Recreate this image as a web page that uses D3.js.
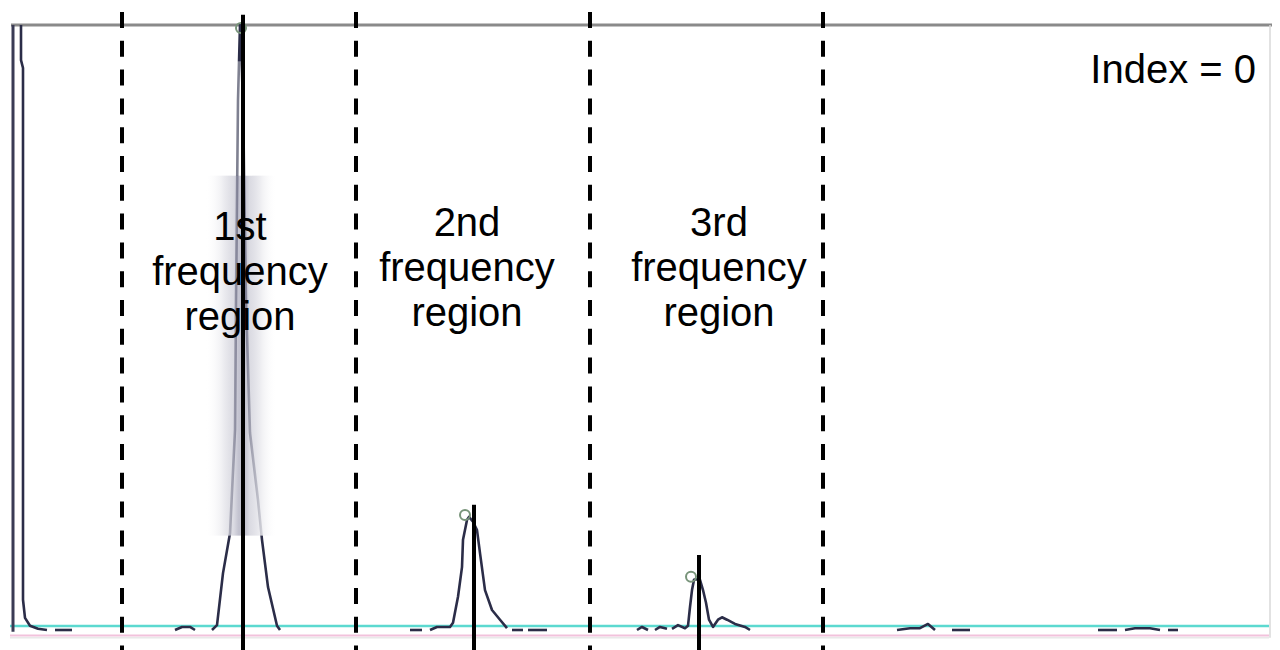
<!DOCTYPE html>
<html>
<head>
<meta charset="utf-8">
<script src="https://cdn.jsdelivr.net/npm/d3@7"></script>
<style>
	html, body { margin: 0; padding: 0; background: #fff; }
	svg { display: block; font-family: "Liberation Sans", Arial, sans-serif; }
</style>
</head>
<body>
<div id="chart"></div>
<script>
// spectrum pieces: [frequency bin, amplitude]
const dcSegment = [[4.5, 1.0], [4.5, 0.942], [5.5, 0.929], [5.5, 0.05], [6.5, 0.02], [9, 0.007], [13, 0.002], [17.5, 0]];
const peak1Segment = [[100, 0], [102.5, 0.008], [105.5, 0.094], [109, 0.16], [111.5, 0.331], [112, 0.545], [113, 0.876],
	[114, 1.0], [115.5, 0.876], [117, 0.545], [119, 0.326], [123, 0.215], [125, 0.149], [128, 0.071], [132.5, 0.007], [134, 0]];
const peak2Segment = [[209, 0], [212.5, 0.005], [219, 0.005], [220.5, 0.012], [223, 0.055], [225, 0.104], [225.5, 0.149],
	[227.5, 0.182], [228.5, 0.187], [230.5, 0.179], [232.5, 0.165], [234, 0.127], [236.5, 0.066], [240, 0.033], [244, 0.017], [247.5, 0.003]];
const peak3Segment = [[330, 0.002], [333, 0.008], [336.5, 0.003], [338, 0.007], [339, 0.038], [340, 0.066], [341, 0.083],
	[342, 0.084], [344, 0.083], [345.5, 0.066], [347, 0.045], [348.5, 0.017], [350.5, 0.005], [353, 0.017], [355, 0.021],
	[357.5, 0.017], [361.5, 0.01], [366.5, 0.005], [369, 0]];
const noiseSegments = [
	[[21.5, 0], [30, 0]],
	[[81.5, 0], [85, 0.005], [89, 0.005], [91.5, 0]],
	[[199, 0], [205, 0]],
	[[250, 0], [255.5, 0]],
	[[258, 0], [267.5, 0]],
	[[312.5, 0], [315, 0.005], [318, 0]],
	[[321.5, 0], [324, 0.005], [327.5, 0.002]],
	[[442.5, 0], [449, 0.003], [454, 0.003], [458, 0.01], [461.5, 0]],
	[[470, 0], [479, 0]],
	[[543, 0], [552.5, 0]],
	[[556.5, 0], [561.5, 0.003], [569, 0.003], [574, 0]],
	[[578, 0], [583, 0]]
];

// detected peaks (small rings) and the harmonic markers (solid black)
const peakFreq = [114.5, 226.5, 339.5];
const peakAmp = [0.995, 0.19, 0.088];
const harmonicFreq = [115.5, 231, 343.5];
const harmonicAmp = [1.017, 0.207, 0.124];

// region boundaries and labels
const regionBounds = [55, 172, 289, 405.5];
const regionLabelFreq = [114, 227.5, 353.5];
const regionLabels = [["1st", "frequency", "region"], ["2nd", "frequency", "region"], ["3rd", "frequency", "region"]];
const indexValue = 0;

const width = 1280, height = 650;

const x = d3.scaleLinear().domain([0, 629]).range([12, 1270]);
const y = d3.scaleLinear().domain([0, 1]).range([630, 25]);

const svg = d3.select("#chart")
	.append("svg")
	.attr("width", width)
	.attr("height", height);

const defs = svg.append("defs");
const smear = defs.append("linearGradient").attr("id", "smear");
[[0, "#ffffff", 0], [0.22, "#f0f0f3", 0.85], [0.4, "#cbcbd6", 0.7], [0.47, "#a2a2b6", 0.65],
	[0.55, "#a2a2b6", 0.65], [0.62, "#cbcbd6", 0.7], [0.8, "#f0f0f3", 0.85], [1, "#ffffff", 0]]
	.forEach(s => smear.append("stop").attr("offset", s[0]).attr("stop-color", s[1]).attr("stop-opacity", s[2]));

// frame
svg.append("line")
	.attr("x1", x(-0.5)).attr("x2", x(630))
	.attr("y1", y(1)).attr("y2", y(1))
	.attr("stroke", "#8a8a8a").attr("stroke-width", 3);
svg.append("line")
	.attr("x1", x(629)).attr("x2", x(629))
	.attr("y1", y(1)).attr("y2", y(-0.013))
	.attr("stroke", "#d8d8d8").attr("stroke-width", 1.5);
svg.append("line")
	.attr("x1", x(-1)).attr("x2", x(628.5))
	.attr("y1", y(0.0066)).attr("y2", y(0.0066))
	.attr("stroke", "#5cd9d0").attr("stroke-width", 2.5);
svg.append("line")
	.attr("x1", x(-1)).attr("x2", x(628.5))
	.attr("y1", y(-0.009)).attr("y2", y(-0.009))
	.attr("stroke", "#f2c2dc").attr("stroke-width", 2);
svg.append("line")
	.attr("x1", x(-1)).attr("x2", x(628.5))
	.attr("y1", y(-0.013)).attr("y2", y(-0.013))
	.attr("stroke", "#dddddd").attr("stroke-width", 1);
svg.append("line")
	.attr("x1", x(0.5)).attr("x2", x(0.5))
	.attr("y1", y(1)).attr("y2", y(-0.003))
	.attr("stroke", "#3a3b55").attr("stroke-width", 3);

// spectrum
const line = d3.line().x(d => x(d[0])).y(d => y(d[1]));
const segments = [dcSegment, peak1Segment, peak2Segment, peak3Segment].concat(noiseSegments);
svg.append("g")
	.selectAll("path")
	.data(segments)
	.join("path")
	.attr("d", line)
	.attr("fill", "none")
	.attr("stroke", "#2b2d48")
	.attr("stroke-width", 2.6)
	.attr("stroke-linejoin", "round");

// washed-out band over the first peak
svg.append("rect")
	.attr("x", x(96.5)).attr("y", y(0.751))
	.attr("width", x(132.5) - x(96.5)).attr("height", y(0.156) - y(0.751))
	.attr("fill", "url(#smear)");
svg.append("rect")
	.attr("x", x(110)).attr("y", y(0.94))
	.attr("width", x(120) - x(110)).attr("height", y(0.751) - y(0.94))
	.attr("fill", "#ffffff").attr("opacity", 0.4);

// peak rings
svg.append("g")
	.selectAll("circle")
	.data(peakFreq)
	.join("circle")
	.attr("cx", d => x(d))
	.attr("cy", (d, i) => y(peakAmp[i]))
	.attr("r", 5)
	.attr("fill", "none")
	.attr("stroke", "#78947a")
	.attr("stroke-width", 2);

// region boundaries
svg.append("g")
	.selectAll("line")
	.data(regionBounds)
	.join("line")
	.attr("x1", d => x(d)).attr("x2", d => x(d))
	.attr("y1", 12).attr("y2", height)
	.attr("stroke", "#000")
	.attr("stroke-width", 4)
	.attr("stroke-dasharray", "16,12.8");

// harmonic markers
svg.append("g")
	.selectAll("line")
	.data(harmonicFreq)
	.join("line")
	.attr("x1", d => x(d)).attr("x2", d => x(d))
	.attr("y1", (d, i) => y(harmonicAmp[i]))
	.attr("y2", height)
	.attr("stroke", "#000")
	.attr("stroke-width", 4);

// region labels
const labelTop = [240, 236, 236];
svg.append("g")
	.attr("text-anchor", "middle")
	.style("font-size", "40px")
	.selectAll("text")
	.data(regionLabels)
	.join("text")
	.attr("x", (d, i) => x(regionLabelFreq[i]))
	.attr("y", (d, i) => labelTop[i])
	.selectAll("tspan")
	.data(d => d)
	.join("tspan")
	.attr("x", function() { return this.parentNode.getAttribute("x"); })
	.attr("dy", (d, i) => i === 0 ? 0 : 45)
	.text(d => d);

svg.append("text")
	.attr("x", 1256)
	.attr("y", 83)
	.attr("text-anchor", "end")
	.style("font-size", "40px")
	.text(`Index = ${indexValue}`);
</script>
</body>
</html>
